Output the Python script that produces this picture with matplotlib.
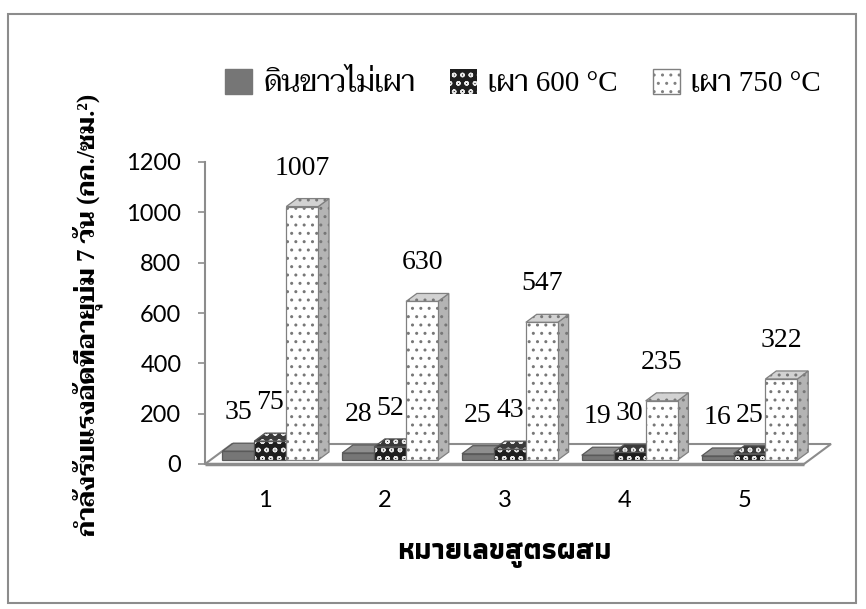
import matplotlib
matplotlib.use("Agg")
import matplotlib.pyplot as plt
from matplotlib.patches import Polygon, Rectangle, Patch
from matplotlib.font_manager import FontProperties

# Compressive strength at 7 days (kg/cm2) for each mix number
categories = ["1", "2", "3", "4", "5"]
series_names = ["ดินขาวไม่เผา", "เผา 600 °C", "เผา 750 °C"]
raw_clay = [35, 28, 25, 19, 16]
fired_600 = [75, 52, 43, 30, 25]
fired_750 = [1007, 630, 547, 235, 322]
y_ticks = [0, 200, 400, 600, 800, 1000, 1200]

series = [raw_clay, fired_600, fired_750]

# face colours per series: front, side, top, hatch, hatch colour, outline
styles = [
    dict(front="#767676", side="#626262", top="#8e8e8e", hatch=None, hc="#767676", ec="#5a5a5a"),
    dict(front="#1e1e1e", side="#2a2a2a", top="#3a3a3a", hatch="oo", hc="#e8e8e8", ec="#555555"),
    dict(front="#ffffff", side="#b4b4b4", top="#d2d2d2", hatch="..", hc="#777777", ec="#808080"),
]

serif_thai = ["Liberation Serif", "Taviraj"]

fig = plt.figure(figsize=(8.66, 6.09), dpi=100)
W, H = 866, 609

# outer chart border
fig.add_artist(Rectangle((8 / W, 6 / H), 848 / W, 589 / H, transform=fig.transFigure,
                         fill=False, edgecolor="#8c8c8c", linewidth=1.5))

ax = fig.add_axes([205 / W, (H - 464) / H, 599 / W, 302 / H])
ax.set_xlim(0.5, 5.5)
ax.set_ylim(0, 1200)

# oblique depth vector of the floor, in data units
DX, DY = 27 / 119.8, 20 / 0.2517
group = 0.8
bw = group / 3
z0, depth = 0.2, 0.4


def face(pts, st, fc):
    ax.add_patch(Polygon(pts, closed=True, facecolor=fc, edgecolor=st["hc"],
                         hatch=st["hatch"], linewidth=0, clip_on=False))
    ax.add_patch(Polygon(pts, closed=True, fill=False, edgecolor=st["ec"],
                         linewidth=0.9, clip_on=False))


# floor plate
floor = [(0.5, 0), (5.5, 0), (5.5 + DX, DY), (0.5 + DX, DY)]
ax.add_patch(Polygon(floor, closed=True, facecolor="white", edgecolor="#8c8c8c",
                     linewidth=1.5, clip_on=False))
ax.plot([0.5, 5.5], [0, 0], color="#8c8c8c", linewidth=2.5, clip_on=False,
        solid_capstyle="butt")

ddx, ddy = depth * DX, depth * DY
for i, cat in enumerate(categories):
    c = i + 1
    for k, (vals, st) in enumerate(zip(series, styles)):
        v = vals[i]
        x0 = c - group / 2 + k * bw + z0 * DX
        y0 = z0 * DY
        front = [(x0, y0), (x0 + bw, y0), (x0 + bw, y0 + v), (x0, y0 + v)]
        side = [(x0 + bw, y0), (x0 + bw + ddx, y0 + ddy),
                (x0 + bw + ddx, y0 + v + ddy), (x0 + bw, y0 + v)]
        top = [(x0, y0 + v), (x0 + bw, y0 + v),
               (x0 + bw + ddx, y0 + v + ddy), (x0 + ddx, y0 + v + ddy)]
        face(side, st, st["side"])
        face(top, st, st["top"])
        face(front, st, st["front"])
        ax.annotate(str(v), (x0 + bw / 2, y0 + v + ddy), xytext=(0, 22),
                    textcoords="offset points", ha="center", va="center",
                    fontsize=20, family="Liberation Serif", annotation_clip=False)

# axes styling
for s in ["top", "right", "bottom"]:
    ax.spines[s].set_visible(False)
ax.spines["left"].set_color("#8c8c8c")
ax.spines["left"].set_linewidth(1.5)
ax.set_yticks(y_ticks)
ax.set_yticklabels([str(t) for t in y_ticks], family="Lato", fontsize=17)
ax.tick_params(axis="y", direction="out", length=5, width=1.2, color="#8c8c8c", pad=12)
ax.set_xticks(range(1, len(categories) + 1))
ax.set_xticklabels(categories, family="Lato", fontsize=17)
ax.tick_params(axis="x", length=0, pad=19)
ax.patch.set_visible(False)

# legend
handles = [
    Patch(facecolor=styles[0]["front"], edgecolor=styles[0]["front"]),
    Patch(facecolor=styles[1]["front"], edgecolor=styles[1]["hc"], hatch="oo", linewidth=0),
    Patch(facecolor="white", edgecolor="#808080", hatch=".."),
]
fig.legend(handles, series_names, loc="center", bbox_to_anchor=(523 / W, 1 - 83 / H),
           ncol=3, frameon=False, prop=FontProperties(family=serif_thai, size=21),
           handlelength=0.93, handleheight=0.97, handletextpad=0.38,
           columnspacing=1.2, borderpad=0, borderaxespad=0)

# axis titles
fig.text(88 / W, 1 - 315 / H, "กำลังรับแรงอัดที่อายุบ่ม 7 วัน (กก./ซม.²)", rotation=90,
         ha="center", va="center", fontsize=18, fontweight="bold", family=serif_thai)
fig.text(504 / W, 1 - 555 / H, "หมายเลขสูตรผสม", ha="center", va="center",
         fontsize=21, fontweight="bold", family=["Athiti"])

fig.savefig("out.png", dpi=100)
